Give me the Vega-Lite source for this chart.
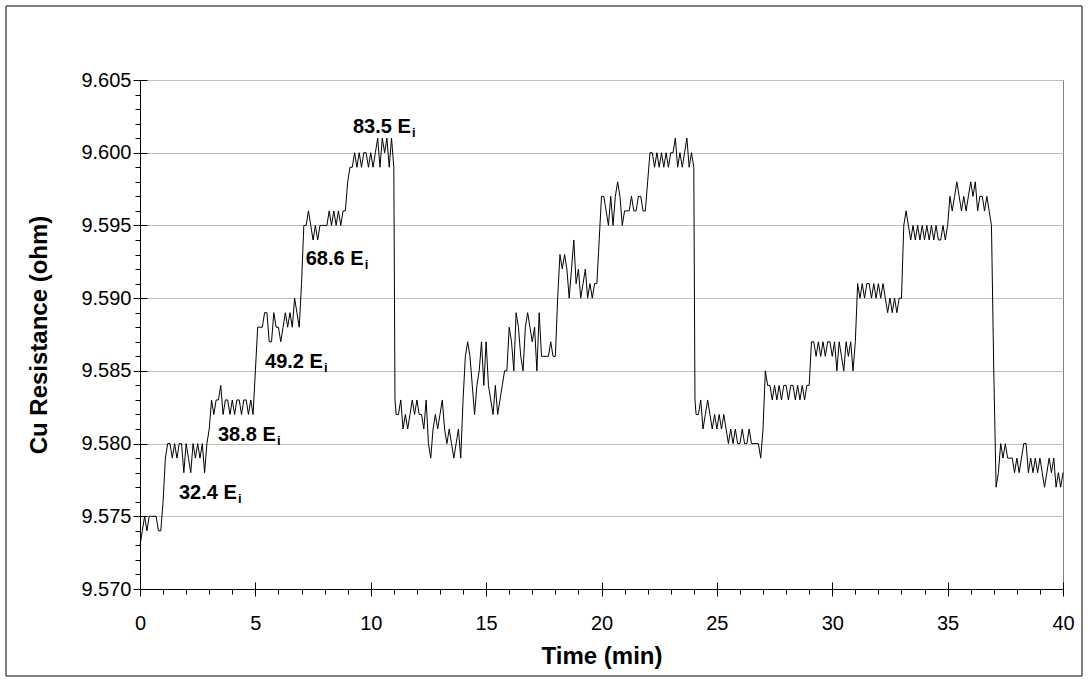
{
 "$schema": "https://vega.github.io/schema/vega-lite/v6.json",
 "width": 923,
 "height": 509,
 "autosize": {"type": "none"},
 "padding": {"left": 140, "top": 80, "right": 27, "bottom": 94},
 "background": "white",
 "config": {
  "view": {"stroke": "#808080", "strokeWidth": 1},
  "font": "Liberation Sans",
  "axis": {"labelFont": "Liberation Sans", "titleFont": "Liberation Sans", "labelColor": "black", "titleColor": "black", "tickColor": "black", "domainColor": "black", "tickWidth": 1, "domainWidth": 1}
 },
 "datasets": {
  "trace": [
   {"t":0,"r":9.573},{"t":0.1,"r":9.574},{"t":0.2,"r":9.575},{"t":0.3,"r":9.574},{"t":0.4,"r":9.575},{"t":0.5,"r":9.575},{"t":0.6,"r":9.575},{"t":0.7,"r":9.575},{"t":0.8,"r":9.574},{"t":0.9,"r":9.574},
   {"t":1.0,"r":9.576},{"t":1.1,"r":9.579},{"t":1.2,"r":9.58},{"t":1.3,"r":9.58},{"t":1.4,"r":9.579},{"t":1.5,"r":9.58},{"t":1.6,"r":9.579},{"t":1.7,"r":9.58},{"t":1.8,"r":9.58},{"t":1.9,"r":9.578},
   {"t":2.0,"r":9.58},{"t":2.1,"r":9.579},{"t":2.2,"r":9.578},{"t":2.3,"r":9.58},{"t":2.4,"r":9.579},{"t":2.5,"r":9.58},{"t":2.6,"r":9.579},{"t":2.7,"r":9.58},{"t":2.8,"r":9.578},{"t":2.9,"r":9.58},
   {"t":3.0,"r":9.581},{"t":3.1,"r":9.583},{"t":3.2,"r":9.582},{"t":3.3,"r":9.583},{"t":3.4,"r":9.583},{"t":3.5,"r":9.584},{"t":3.6,"r":9.582},{"t":3.7,"r":9.583},{"t":3.8,"r":9.583},{"t":3.9,"r":9.582},
   {"t":4.0,"r":9.583},{"t":4.1,"r":9.582},{"t":4.2,"r":9.583},{"t":4.3,"r":9.583},{"t":4.4,"r":9.582},{"t":4.5,"r":9.583},{"t":4.6,"r":9.583},{"t":4.7,"r":9.582},{"t":4.8,"r":9.583},{"t":4.9,"r":9.582},
   {"t":5.0,"r":9.585},{"t":5.1,"r":9.588},{"t":5.2,"r":9.588},{"t":5.3,"r":9.588},{"t":5.4,"r":9.589},{"t":5.5,"r":9.589},{"t":5.6,"r":9.587},{"t":5.7,"r":9.587},{"t":5.8,"r":9.589},{"t":5.9,"r":9.588},
   {"t":6.0,"r":9.588},{"t":6.1,"r":9.587},{"t":6.2,"r":9.588},{"t":6.3,"r":9.589},{"t":6.4,"r":9.588},{"t":6.5,"r":9.589},{"t":6.6,"r":9.588},{"t":6.7,"r":9.59},{"t":6.8,"r":9.589},{"t":6.9,"r":9.588},
   {"t":7.0,"r":9.591},{"t":7.1,"r":9.595},{"t":7.2,"r":9.595},{"t":7.3,"r":9.596},{"t":7.4,"r":9.595},{"t":7.5,"r":9.594},{"t":7.6,"r":9.595},{"t":7.7,"r":9.594},{"t":7.8,"r":9.595},{"t":7.9,"r":9.595},
   {"t":8.0,"r":9.595},{"t":8.1,"r":9.595},{"t":8.2,"r":9.596},{"t":8.3,"r":9.595},{"t":8.4,"r":9.596},{"t":8.5,"r":9.595},{"t":8.6,"r":9.596},{"t":8.7,"r":9.595},{"t":8.8,"r":9.596},{"t":8.9,"r":9.596},
   {"t":9.0,"r":9.598},{"t":9.1,"r":9.599},{"t":9.2,"r":9.599},{"t":9.3,"r":9.6},{"t":9.4,"r":9.599},{"t":9.5,"r":9.6},{"t":9.6,"r":9.599},{"t":9.7,"r":9.6},{"t":9.8,"r":9.6},{"t":9.9,"r":9.599},
   {"t":10.0,"r":9.6},{"t":10.1,"r":9.599},{"t":10.2,"r":9.6},{"t":10.3,"r":9.601},{"t":10.4,"r":9.599},{"t":10.5,"r":9.601},{"t":10.6,"r":9.6},{"t":10.7,"r":9.601},{"t":10.8,"r":9.599},{"t":10.9,"r":9.601},
   {"t":11.0,"r":9.599},{"t":11.05,"r":9.583},{"t":11.1,"r":9.582},{"t":11.2,"r":9.582},{"t":11.3,"r":9.583},{"t":11.4,"r":9.581},{"t":11.5,"r":9.582},{"t":11.6,"r":9.581},{"t":11.7,"r":9.582},{"t":11.8,"r":9.583},{"t":11.9,"r":9.582},
   {"t":12.0,"r":9.583},{"t":12.1,"r":9.582},{"t":12.2,"r":9.582},{"t":12.3,"r":9.581},{"t":12.4,"r":9.583},{"t":12.5,"r":9.58},{"t":12.6,"r":9.579},{"t":12.7,"r":9.581},{"t":12.8,"r":9.582},{"t":12.9,"r":9.581},
   {"t":13.0,"r":9.582},{"t":13.1,"r":9.583},{"t":13.2,"r":9.581},{"t":13.3,"r":9.58},{"t":13.4,"r":9.581},{"t":13.5,"r":9.58},{"t":13.6,"r":9.579},{"t":13.7,"r":9.58},{"t":13.8,"r":9.581},{"t":13.9,"r":9.579},
   {"t":14.0,"r":9.583},{"t":14.1,"r":9.586},{"t":14.2,"r":9.587},{"t":14.3,"r":9.586},{"t":14.4,"r":9.584},{"t":14.5,"r":9.582},{"t":14.6,"r":9.584},{"t":14.7,"r":9.585},{"t":14.8,"r":9.587},{"t":14.9,"r":9.584},
   {"t":15.0,"r":9.587},{"t":15.1,"r":9.584},{"t":15.2,"r":9.583},{"t":15.3,"r":9.582},{"t":15.4,"r":9.584},{"t":15.5,"r":9.582},{"t":15.6,"r":9.583},{"t":15.7,"r":9.584},{"t":15.8,"r":9.585},{"t":15.9,"r":9.585},
   {"t":16.0,"r":9.588},{"t":16.1,"r":9.587},{"t":16.2,"r":9.585},{"t":16.3,"r":9.589},{"t":16.4,"r":9.588},{"t":16.5,"r":9.586},{"t":16.6,"r":9.585},{"t":16.7,"r":9.588},{"t":16.8,"r":9.589},{"t":16.9,"r":9.588},
   {"t":17.0,"r":9.587},{"t":17.1,"r":9.588},{"t":17.2,"r":9.585},{"t":17.3,"r":9.589},{"t":17.4,"r":9.586},{"t":17.5,"r":9.586},{"t":17.6,"r":9.586},{"t":17.7,"r":9.586},{"t":17.8,"r":9.587},{"t":17.9,"r":9.586},
   {"t":18.0,"r":9.586},{"t":18.1,"r":9.59},{"t":18.2,"r":9.593},{"t":18.3,"r":9.592},{"t":18.4,"r":9.593},{"t":18.5,"r":9.592},{"t":18.6,"r":9.59},{"t":18.7,"r":9.592},{"t":18.8,"r":9.594},{"t":18.9,"r":9.591},
   {"t":19.0,"r":9.592},{"t":19.1,"r":9.59},{"t":19.2,"r":9.591},{"t":19.3,"r":9.592},{"t":19.4,"r":9.59},{"t":19.5,"r":9.591},{"t":19.6,"r":9.59},{"t":19.7,"r":9.591},{"t":19.8,"r":9.591},{"t":19.9,"r":9.594},
   {"t":20.0,"r":9.597},{"t":20.1,"r":9.597},{"t":20.2,"r":9.596},{"t":20.3,"r":9.595},{"t":20.4,"r":9.597},{"t":20.5,"r":9.595},{"t":20.6,"r":9.597},{"t":20.7,"r":9.598},{"t":20.8,"r":9.597},{"t":20.9,"r":9.595},
   {"t":21.0,"r":9.596},{"t":21.1,"r":9.596},{"t":21.2,"r":9.596},{"t":21.3,"r":9.597},{"t":21.4,"r":9.596},{"t":21.5,"r":9.596},{"t":21.6,"r":9.597},{"t":21.7,"r":9.597},{"t":21.8,"r":9.596},{"t":21.9,"r":9.596},
   {"t":22.0,"r":9.598},{"t":22.1,"r":9.6},{"t":22.2,"r":9.6},{"t":22.3,"r":9.599},{"t":22.4,"r":9.6},{"t":22.5,"r":9.599},{"t":22.6,"r":9.6},{"t":22.7,"r":9.599},{"t":22.8,"r":9.6},{"t":22.9,"r":9.599},
   {"t":23.0,"r":9.6},{"t":23.1,"r":9.6},{"t":23.2,"r":9.601},{"t":23.3,"r":9.599},{"t":23.4,"r":9.6},{"t":23.5,"r":9.599},{"t":23.6,"r":9.6},{"t":23.7,"r":9.601},{"t":23.8,"r":9.599},{"t":23.9,"r":9.6},
   {"t":24.0,"r":9.599},{"t":24.05,"r":9.583},{"t":24.1,"r":9.582},{"t":24.2,"r":9.582},{"t":24.3,"r":9.583},{"t":24.4,"r":9.581},{"t":24.5,"r":9.582},{"t":24.6,"r":9.583},{"t":24.7,"r":9.582},{"t":24.8,"r":9.581},{"t":24.9,"r":9.582},
   {"t":25.0,"r":9.581},{"t":25.1,"r":9.582},{"t":25.2,"r":9.581},{"t":25.3,"r":9.582},{"t":25.4,"r":9.581},{"t":25.5,"r":9.58},{"t":25.6,"r":9.581},{"t":25.7,"r":9.58},{"t":25.8,"r":9.581},{"t":25.9,"r":9.58},
   {"t":26.0,"r":9.58},{"t":26.1,"r":9.581},{"t":26.2,"r":9.58},{"t":26.3,"r":9.58},{"t":26.4,"r":9.581},{"t":26.5,"r":9.58},{"t":26.6,"r":9.58},{"t":26.7,"r":9.58},{"t":26.8,"r":9.58},{"t":26.9,"r":9.579},
   {"t":27.0,"r":9.581},{"t":27.1,"r":9.585},{"t":27.2,"r":9.584},{"t":27.3,"r":9.584},{"t":27.4,"r":9.583},{"t":27.5,"r":9.584},{"t":27.6,"r":9.583},{"t":27.7,"r":9.584},{"t":27.8,"r":9.583},{"t":27.9,"r":9.584},
   {"t":28.0,"r":9.584},{"t":28.1,"r":9.583},{"t":28.2,"r":9.584},{"t":28.3,"r":9.584},{"t":28.4,"r":9.583},{"t":28.5,"r":9.584},{"t":28.6,"r":9.583},{"t":28.7,"r":9.584},{"t":28.8,"r":9.583},{"t":28.9,"r":9.584},
   {"t":29.0,"r":9.584},{"t":29.1,"r":9.587},{"t":29.2,"r":9.587},{"t":29.3,"r":9.586},{"t":29.4,"r":9.587},{"t":29.5,"r":9.586},{"t":29.6,"r":9.587},{"t":29.7,"r":9.586},{"t":29.8,"r":9.587},{"t":29.9,"r":9.587},
   {"t":30.0,"r":9.586},{"t":30.1,"r":9.587},{"t":30.2,"r":9.585},{"t":30.3,"r":9.587},{"t":30.4,"r":9.586},{"t":30.5,"r":9.585},{"t":30.6,"r":9.587},{"t":30.7,"r":9.586},{"t":30.8,"r":9.587},{"t":30.9,"r":9.585},
   {"t":31.0,"r":9.587},{"t":31.1,"r":9.591},{"t":31.2,"r":9.59},{"t":31.3,"r":9.591},{"t":31.4,"r":9.59},{"t":31.5,"r":9.591},{"t":31.6,"r":9.591},{"t":31.7,"r":9.59},{"t":31.8,"r":9.591},{"t":31.9,"r":9.59},
   {"t":32.0,"r":9.591},{"t":32.1,"r":9.59},{"t":32.2,"r":9.591},{"t":32.3,"r":9.59},{"t":32.4,"r":9.589},{"t":32.5,"r":9.59},{"t":32.6,"r":9.589},{"t":32.7,"r":9.59},{"t":32.8,"r":9.589},{"t":32.9,"r":9.59},
   {"t":33.0,"r":9.59},{"t":33.1,"r":9.595},{"t":33.2,"r":9.596},{"t":33.3,"r":9.595},{"t":33.4,"r":9.594},{"t":33.5,"r":9.595},{"t":33.6,"r":9.594},{"t":33.7,"r":9.595},{"t":33.8,"r":9.594},{"t":33.9,"r":9.595},
   {"t":34.0,"r":9.594},{"t":34.1,"r":9.595},{"t":34.2,"r":9.594},{"t":34.3,"r":9.595},{"t":34.4,"r":9.594},{"t":34.5,"r":9.595},{"t":34.6,"r":9.594},{"t":34.7,"r":9.594},{"t":34.8,"r":9.595},{"t":34.9,"r":9.594},
   {"t":35.0,"r":9.595},{"t":35.1,"r":9.597},{"t":35.2,"r":9.596},{"t":35.3,"r":9.597},{"t":35.4,"r":9.598},{"t":35.5,"r":9.597},{"t":35.6,"r":9.596},{"t":35.7,"r":9.597},{"t":35.8,"r":9.596},{"t":35.9,"r":9.597},
   {"t":36.0,"r":9.598},{"t":36.1,"r":9.597},{"t":36.2,"r":9.598},{"t":36.3,"r":9.596},{"t":36.4,"r":9.597},{"t":36.5,"r":9.597},{"t":36.6,"r":9.596},{"t":36.7,"r":9.597},{"t":36.8,"r":9.596},{"t":36.9,"r":9.595},
   {"t":37.0,"r":9.585},{"t":37.1,"r":9.577},{"t":37.2,"r":9.578},{"t":37.3,"r":9.58},{"t":37.4,"r":9.579},{"t":37.5,"r":9.58},{"t":37.6,"r":9.579},{"t":37.7,"r":9.579},{"t":37.8,"r":9.579},{"t":37.9,"r":9.578},
   {"t":38.0,"r":9.579},{"t":38.1,"r":9.578},{"t":38.2,"r":9.579},{"t":38.3,"r":9.58},{"t":38.4,"r":9.58},{"t":38.5,"r":9.578},{"t":38.6,"r":9.579},{"t":38.7,"r":9.578},{"t":38.8,"r":9.579},{"t":38.9,"r":9.578},
   {"t":39.0,"r":9.579},{"t":39.1,"r":9.578},{"t":39.2,"r":9.577},{"t":39.3,"r":9.578},{"t":39.4,"r":9.579},{"t":39.5,"r":9.578},{"t":39.6,"r":9.579},{"t":39.7,"r":9.577},{"t":39.8,"r":9.578},{"t":39.9,"r":9.577},{"t":40.0,"r":9.578}
  ],
  "notes": [
   {"tx": 1.69, "ty": 9.5766, "label": "32.4 E"},
   {"tx": 3.38, "ty": 9.5806, "label": "38.8 E"},
   {"tx": 5.42, "ty": 9.5856, "label": "49.2 E"},
   {"tx": 7.18, "ty": 9.5927, "label": "68.6 E"},
   {"tx": 9.23, "ty": 9.6018, "label": "83.5 E"}
  ]
 },
 "resolve": {"axis": {"x": "independent", "y": "independent"}},
 "layer": [
  {
   "data": {"values": [{}]},
   "mark": {"type": "rect", "filled": false, "stroke": "black", "strokeWidth": 1},
   "encoding": {"x": {"value": -134}, "x2": {"value": 942}, "y": {"value": -74}, "y2": {"value": 596}}
  },
  {
   "data": {"name": "trace"},
   "mark": {"type": "line", "stroke": "black", "strokeWidth": 1, "interpolate": "linear"},
   "encoding": {
    "x": {"field": "t", "type": "quantitative", "scale": {"domain": [0, 40], "nice": false, "zero": false},
     "axis": {"orient": "bottom", "values": [0,5,10,15,20,25,30,35,40], "tickSize": 7, "labelPadding": 17, "labelFontSize": 20, "labelFlush": false, "labelOverlap": false, "grid": false, "title": "Time (min)", "titleFontSize": 24, "titleFontWeight": "bold", "titlePadding": 11}},
    "y": {"field": "r", "type": "quantitative", "scale": {"domain": [9.57, 9.605], "nice": false, "zero": false},
     "axis": {"orient": "left", "values": [9.57,9.575,9.58,9.585,9.59,9.595,9.6,9.605], "format": ".3f", "tickSize": 7, "labelPadding": 2, "labelFontSize": 20, "labelOverlap": false, "grid": true, "gridColor": "#c0c0c0", "gridWidth": 1, "title": "Cu Resistance (ohm)", "titleFontSize": 24, "titleFontWeight": "bold", "titlePadding": 29}}
   }
  },
  {
   "data": {"name": "notes"},
   "mark": {"type": "text", "align": "left", "baseline": "middle", "fontSize": 20, "fontWeight": "bold", "font": "Liberation Sans", "color": "black"},
   "encoding": {
    "x": {"field": "tx", "type": "quantitative", "scale": {"domain": [0, 40], "nice": false, "zero": false},
     "axis": {"orient": "bottom", "values": [0,1,2,3,4,5,6,7,8,9,10,11,12,13,14,15,16,17,18,19,20,21,22,23,24,25,26,27,28,29,30,31,32,33,34,35,36,37,38,39,40], "tickSize": 5, "labels": false, "domain": false, "grid": false, "title": null}},
    "y": {"field": "ty", "type": "quantitative", "scale": {"domain": [9.57, 9.605], "nice": false, "zero": false},
     "axis": {"orient": "left", "values": [9.57,9.571,9.572,9.573,9.574,9.575,9.576,9.577,9.578,9.579,9.58,9.581,9.582,9.583,9.584,9.585,9.586,9.587,9.588,9.589,9.59,9.591,9.592,9.593,9.594,9.595,9.596,9.597,9.598,9.599,9.6,9.601,9.602,9.603,9.604,9.605], "tickSize": 5, "labels": false, "domain": false, "grid": false, "title": null}},
    "text": {"field": "label"}
   }
  },
  {
   "data": {"name": "notes"},
   "mark": {"type": "text", "text": "i", "align": "left", "baseline": "middle", "fontSize": 13, "fontWeight": "bold", "font": "Liberation Sans", "color": "black", "dx": 59, "dy": 6},
   "encoding": {
    "x": {"field": "tx", "type": "quantitative", "scale": {"domain": [0, 40], "nice": false, "zero": false},
     "axis": {"orient": "bottom", "values": [0,5,10,15,20,25,30,35,40], "tickSize": -7, "labels": false, "domain": false, "grid": false, "title": null}},
    "y": {"field": "ty", "type": "quantitative", "scale": {"domain": [9.57, 9.605], "nice": false, "zero": false},
     "axis": {"orient": "left", "values": [9.57,9.575,9.58,9.585,9.59,9.595,9.6,9.605], "tickSize": -7, "labels": false, "domain": false, "grid": false, "title": null}}
   }
  }
 ]
}
